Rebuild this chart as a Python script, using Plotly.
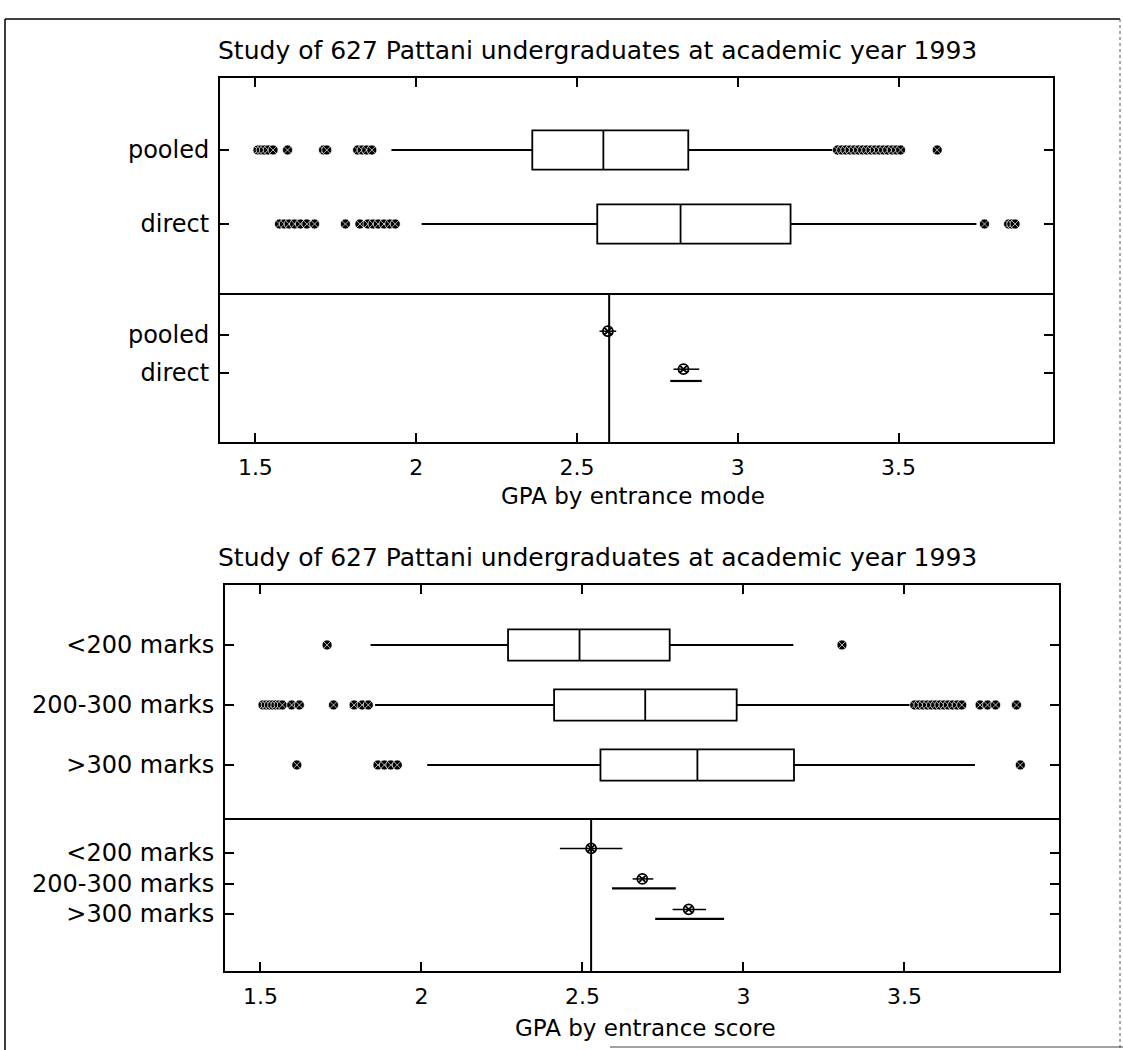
import plotly.graph_objects as go

W, H = 1123, 1050
FONT = "DejaVu Sans"

title_text = "Study of 627 Pattani undergraduates at academic year 1993"

# ---------------- Panel 1: entrance mode ----------------
mode_groups = ["pooled", "direct"]
mode_q1 = [2.361, 2.563]
mode_median = [2.582, 2.822]
mode_q3 = [2.846, 3.164]
mode_lowfence = [1.923, 2.017]
mode_upfence = [3.305, 3.742]
mode_outliers = [
    [1.508, 1.518, 1.528, 1.540, 1.555, 1.600, 1.712, 1.722, 1.818, 1.832, 1.846, 1.862,
     3.310, 3.323, 3.336, 3.349, 3.362, 3.375, 3.388, 3.401, 3.414, 3.427, 3.440, 3.453,
     3.466, 3.480, 3.493, 3.506, 3.620],
    [1.575, 1.590, 1.605, 1.622, 1.640, 1.660, 1.684, 1.780, 1.825, 1.850, 1.866, 1.882,
     1.900, 1.918, 1.935, 3.767, 3.842, 3.852, 3.862],
]
mode_grand_mean = 2.600
mode_mean = [2.596, 2.831]
mode_ci_lo = [2.570, 2.800]
mode_ci_hi = [2.622, 2.880]
mode_cmp_lo = [None, 2.790]
mode_cmp_hi = [None, 2.888]

# ---------------- Panel 2: entrance score ----------------
score_groups = ["<200 marks", "200-300 marks", ">300 marks"]
score_q1 = [2.269, 2.412, 2.556]
score_median = [2.491, 2.695, 2.857]
score_q3 = [2.771, 2.979, 3.157]
score_lowfence = [1.842, 1.856, 2.018]
score_upfence = [3.155, 3.524, 3.719]
score_outliers = [
    [1.707, 3.306],
    [1.508, 1.518, 1.528, 1.538, 1.548, 1.558, 1.568, 1.597, 1.621, 1.727, 1.791, 1.816,
     1.835, 3.532, 3.545, 3.558, 3.571, 3.584, 3.597, 3.610, 3.623, 3.636, 3.650, 3.664,
     3.678, 3.735, 3.758, 3.783, 3.848],
    [1.613, 1.865, 1.885, 1.905, 1.925, 3.860],
]
score_grand_mean = 2.527
score_mean = [2.527, 2.686, 2.830]
score_ci_lo = [2.430, 2.656, 2.780]
score_ci_hi = [2.624, 2.720, 2.884]
score_cmp_lo = [None, 2.592, 2.726]
score_cmp_hi = [None, 2.790, 2.940]

x_ticks = [1.5, 2, 2.5, 3, 3.5]
x_range = [1.39, 3.98]


def px(x):
    return x / W


def py(y):
    return 1 - y / H


fig = go.Figure()

OUT_MARK = dict(symbol="circle-x", size=10, color="black", line=dict(color="white", width=0.7))
CI_MARK = dict(symbol="circle-x-open", size=10, color="black", line=dict(color="black", width=1.8))


def add_panel(groups, q1, med, q3, lf, uf, outl, grand, mean, lo, hi, clo, chi, xa_box, ya_box,
              xa_ci, ya_ci, box_w, mark_off, bar_off):
    pos = list(range(len(groups)))
    for i in pos:
        fig.add_trace(go.Box(
            orientation="h", y=[i], q1=[q1[i]], median=[med[i]], q3=[q3[i]],
            lowerfence=[lf[i]], upperfence=[uf[i]], width=box_w,
            fillcolor="white", line=dict(color="black", width=1.8), whiskerwidth=0,
            boxpoints=False, hoverinfo="skip", xaxis=xa_box, yaxis=ya_box, showlegend=False))
        fig.add_trace(go.Scatter(
            x=outl[i], y=[i] * len(outl[i]), mode="markers", marker=OUT_MARK,
            xaxis=xa_box, yaxis=ya_box, showlegend=False, hoverinfo="skip"))
    # means with short intervals
    fig.add_trace(go.Scatter(
        x=mean, y=[p + mark_off for p in pos], mode="markers", marker=CI_MARK,
        error_x=dict(type="data", symmetric=False,
                     array=[h - m for h, m in zip(hi, mean)],
                     arrayminus=[m - l for m, l in zip(mean, lo)],
                     color="black", thickness=1.5, width=0),
        xaxis=xa_ci, yaxis=ya_ci, showlegend=False, hoverinfo="skip"))
    # comparison intervals (offset below)
    cx, cy, cp, cm = [], [], [], []
    for i in pos:
        if clo[i] is None:
            continue
        c = (clo[i] + chi[i]) / 2
        cx.append(c)
        cy.append(i + bar_off)
        cp.append(chi[i] - c)
        cm.append(c - clo[i])
    fig.add_trace(go.Scatter(
        x=cx, y=cy, mode="markers", marker=dict(size=0.1, color="black"),
        error_x=dict(type="data", symmetric=False, array=cp, arrayminus=cm,
                     color="black", thickness=2.2, width=0),
        xaxis=xa_ci, yaxis=ya_ci, showlegend=False, hoverinfo="skip"))
    fig.add_shape(type="line", xref=xa_ci, yref=ya_ci + " domain", x0=grand, x1=grand,
                  y0=0, y1=1, line=dict(color="black", width=2))


add_panel(mode_groups, mode_q1, mode_median, mode_q3, mode_lowfence, mode_upfence, mode_outliers,
          mode_grand_mean, mode_mean, mode_ci_lo, mode_ci_hi, mode_cmp_lo, mode_cmp_hi,
          "x", "y", "x2", "y2", 0.53, -0.1, 0.21)
add_panel(score_groups, score_q1, score_median, score_q3, score_lowfence, score_upfence,
          score_outliers, score_grand_mean, score_mean, score_ci_lo, score_ci_hi,
          score_cmp_lo, score_cmp_hi, "x3", "y3", "x4", "y4", 0.52, -0.15, 0.16)

axis_common = dict(showline=True, linecolor="black", linewidth=2, showgrid=False,
                   zeroline=False, ticks="inside", ticklen=9, tickwidth=1.5,
                   tickcolor="black", fixedrange=True)
tickfont = dict(family=FONT, size=24, color="black")
xtickfont = dict(family=FONT, size=22, color="black")

top_dom = [px(220), px(1053)]
bot_dom = [px(225), px(1059)]

fig.update_layout(
    width=W, height=H, margin=dict(l=0, r=0, t=0, b=0),
    paper_bgcolor="white", plot_bgcolor="white", showlegend=False,
    font=dict(family=FONT, color="black"),
    xaxis=dict(domain=top_dom, anchor="y", range=x_range, tickvals=x_ticks, side="top",
               showticklabels=False, mirror=False, **axis_common),
    yaxis=dict(domain=[py(295), py(78)], anchor="x", range=[1.959, -0.973],
               tickvals=[0, 1], ticktext=mode_groups, tickfont=tickfont, mirror="ticks",
               ticklabelstandoff=4, **axis_common),
    xaxis2=dict(domain=top_dom, anchor="y2", range=x_range, tickvals=x_ticks,
                ticktext=[str(t) for t in x_ticks], tickfont=xtickfont, mirror=True,
                ticklabelstandoff=5, **axis_common),
    yaxis2=dict(domain=[py(442), py(295)], anchor="x2", range=[2.816, -1.053],
                tickvals=[0, 1], ticktext=mode_groups, tickfont=tickfont, mirror="ticks",
                ticklabelstandoff=4, **axis_common),
    xaxis3=dict(domain=bot_dom, anchor="y3", range=x_range, tickvals=x_ticks, side="top",
                showticklabels=False, mirror=False, **axis_common),
    yaxis3=dict(domain=[py(820), py(585)], anchor="x3", range=[2.917, -1.0],
                tickvals=[0, 1, 2], ticktext=score_groups, tickfont=tickfont, mirror="ticks",
                ticklabelstandoff=4, **axis_common),
    xaxis4=dict(domain=bot_dom, anchor="y4", range=x_range, tickvals=x_ticks,
                ticktext=[str(t) for t in x_ticks], tickfont=xtickfont, mirror=True,
                ticklabelstandoff=5, **axis_common),
    yaxis4=dict(domain=[py(971), py(820)], anchor="x4", range=[3.869, -1.082],
                tickvals=[0, 1, 2], ticktext=score_groups, tickfont=tickfont, mirror="ticks",
                ticklabelstandoff=4, **axis_common),
)

ann_font = dict(family=FONT, size=23, color="black")
fig.add_annotation(text=title_text, xref="paper", yref="paper", x=px(216), y=py(50),
                   xanchor="left", yanchor="middle", showarrow=False,
                   font=dict(family=FONT, size=25, color="black"))
fig.add_annotation(text=title_text, xref="paper", yref="paper", x=px(216), y=py(557),
                   xanchor="left", yanchor="middle", showarrow=False,
                   font=dict(family=FONT, size=25, color="black"))
fig.add_annotation(text="GPA by entrance mode", xref="paper", yref="paper", x=px(633),
                   y=py(496), xanchor="center", yanchor="middle", showarrow=False, font=ann_font)
fig.add_annotation(text="GPA by entrance score", xref="paper", yref="paper", x=px(645),
                   y=py(1028), xanchor="center", yanchor="middle", showarrow=False, font=ann_font)

# outer page frame of the scanned figure
fig.add_shape(type="line", xref="paper", yref="paper", x0=px(5), x1=px(1120), y0=py(19),
              y1=py(19), line=dict(color="black", width=1.5))
fig.add_shape(type="line", xref="paper", yref="paper", x0=px(5), x1=px(5), y0=py(19),
              y1=py(1050), line=dict(color="black", width=1.5))
fig.add_shape(type="line", xref="paper", yref="paper", x0=px(1120), x1=px(1120), y0=py(19),
              y1=py(1050), line=dict(color="#555555", width=1, dash="dot"))
fig.add_shape(type="line", xref="paper", yref="paper", x0=px(610), x1=px(1123), y0=py(1047),
              y1=py(1047), line=dict(color="#444444", width=1))

fig.write_html("out.html")
